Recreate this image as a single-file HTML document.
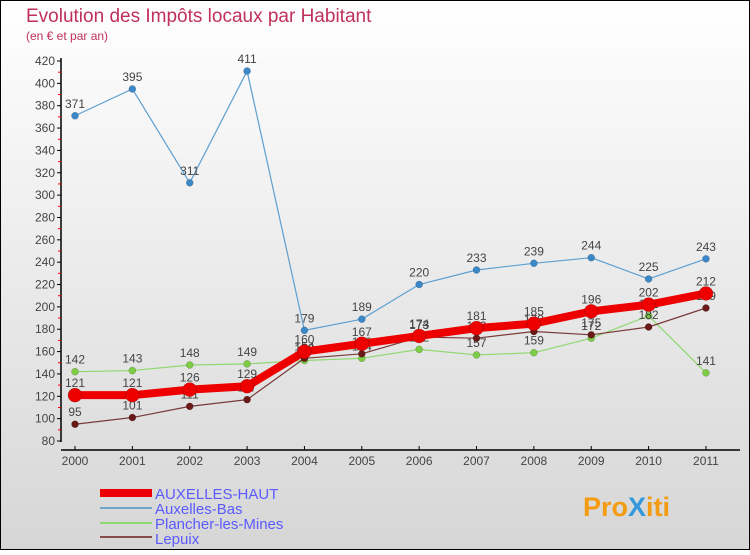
<!DOCTYPE html>
<html><head><meta charset="utf-8"><style>
html,body{margin:0;padding:0}
body{width:750px;height:550px;overflow:hidden;font-family:"Liberation Sans",sans-serif}
</style></head><body>
<svg width="750" height="550" xmlns="http://www.w3.org/2000/svg" id="svg">
<defs><linearGradient id="bg" x1="0" y1="0" x2="0" y2="1"><stop offset="0" stop-color="#ffffff"/><stop offset="1" stop-color="#d6d6d6"/></linearGradient></defs>
<rect x="0.5" y="0.5" width="749" height="549" fill="url(#bg)" stroke="#000"/>
<text x="26" y="22" font-size="19" fill="#c0305a">Evolution des Impôts locaux par Habitant</text>
<text x="26" y="40" font-size="12" fill="#c0305a">(en € et par an)</text>
<g id="axes"></g>
<g id="series"></g>
<g font-size="15" fill="#5a5aff">
<rect x="100" y="489" width="52" height="8" fill="#ee0000"/>
<text x="155" y="499">AUXELLES-HAUT</text>
<rect x="100" y="507" width="52" height="2" fill="#6fa6cc"/>
<text x="155" y="514">Auxelles-Bas</text>
<rect x="100" y="522" width="52" height="2" fill="#8fd870"/>
<text x="155" y="529">Plancher-les-Mines</text>
<rect x="100" y="536" width="52" height="2" fill="#8b4a4a"/>
<text x="155" y="544">Lepuix</text>
</g>
<text x="583" y="516" font-size="27" font-weight="bold" fill="#f39c12">Pro<tspan fill="#3498db">X</tspan>iti</text>
</svg>
<script>
const years=["2000","2001","2002","2003","2004","2005","2006","2007","2008","2009","2010","2011"];
const haut=[121,121,126,129,160,167,174,181,185,196,202,212];
const bas=[371,395,311,411,179,189,220,233,239,244,225,243];
const plancher=[142,143,148,149,152,154,162,157,159,172,192,141];
const lepuix=[95,101,111,117,154,158,173,172,178,175,182,199];
const yTicks=[80,100,120,140,160,180,200,220,240,260,280,300,320,340,360,380,400,420];
const NS="http://www.w3.org/2000/svg";
const X=i=>75+i*57.36;
const Y=v=>441-(v-80)*(380/340);
function mk(t,a,p){const e=document.createElementNS(NS,t);for(const k in a)e.setAttribute(k,a[k]);p.appendChild(e);return e;}
const ax=document.getElementById('axes');
let l=mk('line',{x1:61,y1:58,x2:61,y2:442,stroke:'#000','stroke-width':1.5},ax);


yTicks.forEach((v,i)=>{
  const t=mk('line',{x1:57,y1:Y(v),x2:61,y2:Y(v),stroke:'#000'},ax);
  
  
  if(i<yTicks.length-1){const m=mk('line',{x1:58,y1:Y(v+10),x2:61,y2:Y(v+10),stroke:'#e00'},ax);
  
  }
  const tx=mk('text',{x:55,y:Y(v)+4,'text-anchor':'end','font-size':12,fill:'#444'},ax);
  tx.textContent=v;
  
  
});
l=mk('line',{x1:61,y1:450,x2:740,y2:450,stroke:'#000','stroke-width':1.5},ax);


years.forEach((y,i)=>{
  const t=mk('line',{x1:X(i),y1:446,x2:X(i),y2:450,stroke:'#000'},ax);
  
  
  const tx=mk('text',{x:X(i),y:465,'text-anchor':'middle','font-size':12,fill:'#444'},ax);
  tx.textContent=y;
  
  
});
const sg=document.getElementById('series');
function draw(name,data,color,w,r,dot){
  const g=mk('g',{},sg);
  
  
  const p=mk('polyline',{points:data.map((v,i)=>X(i)+','+Y(v)).join(' '),fill:'none',stroke:color,'stroke-width':w,'stroke-linejoin':'round'},g);
  
  
  data.forEach((v,i)=>{
    const c=mk('circle',{cx:X(i),cy:Y(v),r:r,fill:dot,stroke:'rgba(0,0,0,0.3)','stroke-width':0.5},g);
    
    
    const t=mk('text',{x:X(i),y:Y(v)-8,'text-anchor':'middle','font-size':12,fill:'#444'},g);
    t.textContent=v;
    
    
  });
}
draw('auxelles-bas',bas,'#5d9fd0',1.2,3.5,'#3a88c8');
draw('plancher-les-mines',plancher,'#8fd870',1.2,3.5,'#7ccc44');
draw('lepuix',lepuix,'#7a3a3a',1.2,3.5,'#6a1818');
draw('auxelles-haut',haut,'#ee0000',8,7,'#ee0000');
</script>
</body></html>
